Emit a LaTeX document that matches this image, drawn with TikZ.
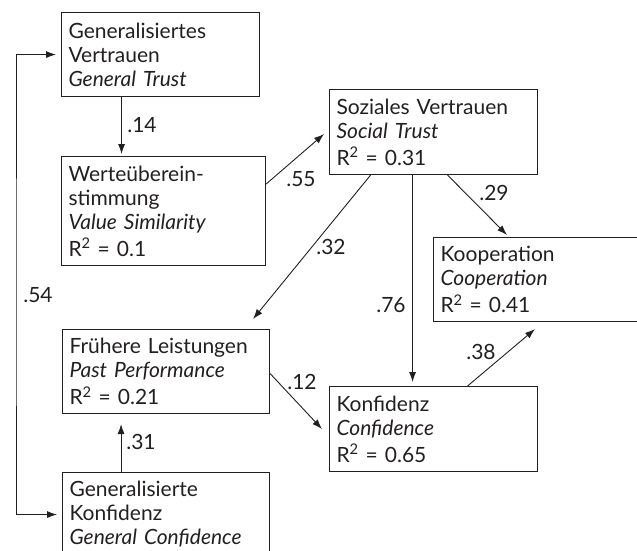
\documentclass[tikz,border=0pt]{standalone}
\usepackage{fontspec}
\setmainfont{Lato}
\usetikzlibrary{arrows.meta}
\definecolor{ink}{HTML}{231F20}
\tikzset{
  box/.style={draw=ink, line width=1.1pt, anchor=north west, inner xsep=7pt, inner ysep=0pt,
    align=left, text=ink, font=\fontsize{21}{24}\selectfont},
  link/.style={->, draw=ink, line width=0.9pt},
  coef/.style={text=ink, inner sep=0pt, font=\fontsize{21}{24}\selectfont},
}
\newcommand{\rsq}[1]{\\[3pt]R\textsuperscript{2} = #1}
\begin{document}
\begin{tikzpicture}[x=1pt,y=-1pt,>={Latex[length=10pt,width=7pt]}]
\clip (0,0) rectangle (637,551);
% boxes, top left corners
\node[box, text width=184pt, minimum height=84pt] (gt) at (61,12)
  {Generalisiertes\\Vertrauen\\\textit{General Trust}};
\node[box, text width=190pt, minimum height=109pt] (vs) at (61,156)
  {Werteüberein-\\stimmung\\\textit{Value Similarity}\rsq{0.1}};
\node[box, text width=194pt, minimum height=85pt] (st) at (329,89)
  {Soziales Vertrauen\\\textit{Social Trust}\rsq{0.31}};
\node[box, text width=194pt, minimum height=84pt] (coop) at (433,237)
  {Kooperation\\\textit{Cooperation}\rsq{0.41}};
\node[box, text width=193pt, minimum height=84pt] (pp) at (62,329)
  {Frühere Leistungen\\\textit{Past Performance}\rsq{0.21}};
\node[box, text width=193pt, minimum height=84pt] (gc) at (62,472)
  {Generalisierte\\Konfidenz\\\mbox{\textit{General Confidence}}};
\node[box, text width=194pt, minimum height=85pt] (conf) at (329,386)
  {Konfidenz\\\textit{Confidence}\rsq{0.65}};
\coordinate (back) at (16,300);
% paths
\draw[link, shorten >=2pt] ([xshift=-39pt]gt.south) -- ([xshift=-39pt]gt.south |- vs.north);
\draw[link] ([yshift=27pt]vs.east) -- ([xshift=-5pt,yshift=-2pt]st.west);
\draw[link] ([xshift=-63pt]st.south) -- ([xshift=-17pt,yshift=10pt]pp.north east);
\draw[link, shorten >=4pt] ([xshift=-21pt]st.south) -- ([xshift=-21pt]st.south |- conf.north);
\draw[link] ([xshift=14pt]st.south) -- ([xshift=74pt,yshift=2pt]coop.north west);
\draw[link] ([yshift=-2pt]pp.east) -- ([xshift=-7pt]conf.west);
\draw[link] ([xshift=34pt]conf.north) -- ([xshift=102pt,yshift=-7pt]coop.south west);
\draw[link, shorten >=10pt] ([xshift=-45pt]gc.north) -- ([xshift=-45pt]gc.north |- pp.south);
\draw[link, <->, shorten <=5pt, shorten >=5pt] (gc.west) -| (back) |- (gt.west);
% coefficients
\node[coef] (c14) at (142,125) {.14};
\node[coef] (c55) at (301,179) {.55};
\node[coef] (c32) at (331,247) {.32};
\node[coef] (c76) at (391,305) {.76};
\node[coef] (c29) at (494,193) {.29};
\node[coef] (c12) at (302,382) {.12};
\node[coef] (c38) at (481,352) {.38};
\node[coef] (c31) at (141,442) {.31};
\node[coef] (c54) at (38,295) {.54};
\end{tikzpicture}
\end{document}
